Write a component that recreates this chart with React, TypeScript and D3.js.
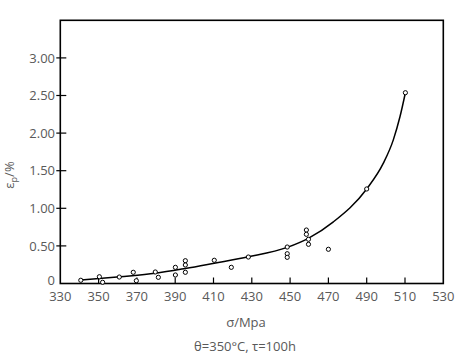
import React, { useEffect, useRef } from 'react';
import * as d3 from 'd3';

// measured points: stress (MPa) vs creep strain (%)
const stress = [
  340.7, 350.4, 352.1, 360.8, 368.1, 369.7, 379.6, 381.2, 390.1, 390.1, 395.3, 395.3, 395.3,
  410.4, 419.3, 428.2, 448.5, 448.5, 448.5, 458.5, 458.5, 459.6, 459.6, 470.0, 490.0, 510.2,
];
const strain = [
  0.043, 0.09, 0.016, 0.086, 0.149, 0.037, 0.153, 0.082, 0.215, 0.113, 0.303, 0.246, 0.149,
  0.309, 0.215, 0.352, 0.485, 0.396, 0.348, 0.711, 0.654, 0.588, 0.521, 0.455, 1.257, 2.537,
];

// fitted curve
const fitStress = [340.7, 361.2, 379.6, 395.3, 410.4, 428.2, 448.5, 459.5, 472.6, 490.0, 498.7, 503.9, 507.4, 510.2];
const fitStrain = [0.045, 0.09, 0.136, 0.2, 0.27, 0.355, 0.48, 0.6, 0.82, 1.257, 1.6, 1.91, 2.22, 2.537];

const xTicks = [330, 350, 370, 390, 410, 430, 450, 470, 490, 510, 530];
const yTicks = [0, 0.5, 1, 1.5, 2, 2.5, 3];

const W = 467;
const H = 362;
const FONT = "'Open Sans', sans-serif";
const GREY = '#595959';

const App = () => {
  const ref = useRef<SVGSVGElement>(null);

  useEffect(() => {
    const svg = d3.select(ref.current);
    svg.selectAll('*').remove();

    const x = d3.scaleLinear().domain([330, 530]).range([60.3, 443.3]);
    const y = d3.scaleLinear().domain([0, 3.5]).range([283.5, 20.3]);

    // frame
    svg
      .append('rect')
      .attr('x', x(330))
      .attr('y', y(3.5))
      .attr('width', x(530) - x(330))
      .attr('height', y(0) - y(3.5))
      .attr('fill', 'none')
      .attr('stroke', '#000')
      .attr('stroke-width', 1.6);

    // x ticks (inside) and labels
    const gx = svg.append('g');
    gx.selectAll('line')
      .data(xTicks.slice(1, -1))
      .enter()
      .append('line')
      .attr('x1', (d) => x(d))
      .attr('x2', (d) => x(d))
      .attr('y1', y(0))
      .attr('y2', y(0) - 6)
      .attr('stroke', '#000')
      .attr('stroke-width', 1.2);
    gx.selectAll('text')
      .data(xTicks)
      .enter()
      .append('text')
      .attr('x', (d) => x(d))
      .attr('y', 301)
      .attr('text-anchor', 'middle')
      .attr('font-family', FONT)
      .attr('font-size', 13)
      .attr('fill', GREY)
      .text((d) => d);

    // y ticks and labels
    const gy = svg.append('g');
    gy.selectAll('line')
      .data(yTicks.slice(1))
      .enter()
      .append('line')
      .attr('x1', x(330) - 4)
      .attr('x2', x(330) + 6)
      .attr('y1', (d) => y(d))
      .attr('y2', (d) => y(d))
      .attr('stroke', '#000')
      .attr('stroke-width', 1.2);
    gy.selectAll('text')
      .data(yTicks)
      .enter()
      .append('text')
      .attr('x', 55)
      .attr('y', (d) => (d === 0 ? y(d) - 3 : y(d)))
      .attr('dy', '0.36em')
      .attr('text-anchor', 'end')
      .attr('font-family', FONT)
      .attr('font-size', 13)
      .attr('fill', GREY)
      .text((d) => (d === 0 ? '0' : d.toFixed(2)));

    // fitted curve
    const fit = fitStress.map((s, i) => [s, fitStrain[i]] as [number, number]);
    const line = d3
      .line<[number, number]>()
      .x((d) => x(d[0]))
      .y((d) => y(d[1]))
      .curve(d3.curveMonotoneX);
    svg
      .append('path')
      .datum(fit)
      .attr('d', line)
      .attr('fill', 'none')
      .attr('stroke', '#000')
      .attr('stroke-width', 1.5);

    // measured points
    svg
      .selectAll('.dot')
      .data(stress.map((s, i) => [s, strain[i]]))
      .enter()
      .append('circle')
      .attr('class', 'dot')
      .attr('cx', (d) => x(d[0]))
      .attr('cy', (d) => y(d[1]))
      .attr('r', 2.1)
      .attr('fill', '#fff')
      .attr('stroke', '#000')
      .attr('stroke-width', 1);

    // axis titles
    svg
      .append('text')
      .attr('x', 246)
      .attr('y', 327)
      .attr('text-anchor', 'middle')
      .attr('font-family', FONT)
      .attr('font-size', 13)
      .attr('fill', GREY)
      .text('σ/Mpa');
    svg
      .append('text')
      .attr('x', 245)
      .attr('y', 351)
      .attr('text-anchor', 'middle')
      .attr('font-family', FONT)
      .attr('font-size', 13)
      .attr('fill', GREY)
      .text('θ=350°C, τ=100h');

    const yt = svg
      .append('text')
      .attr('transform', 'translate(14,175) rotate(-90)')
      .attr('text-anchor', 'middle')
      .attr('font-family', FONT)
      .attr('font-size', 13)
      .attr('fill', GREY);
    yt.append('tspan').text('ε');
    yt.append('tspan').attr('font-size', 9).attr('dy', 3).text('p');
    yt.append('tspan').attr('dy', -3).text('/%');
  }, []);

  return (
    <svg
      ref={ref}
      width={W}
      height={H}
      style={{ position: 'absolute', left: 0, top: 0, background: '#fff' }}
    />
  );
};

export default App;
